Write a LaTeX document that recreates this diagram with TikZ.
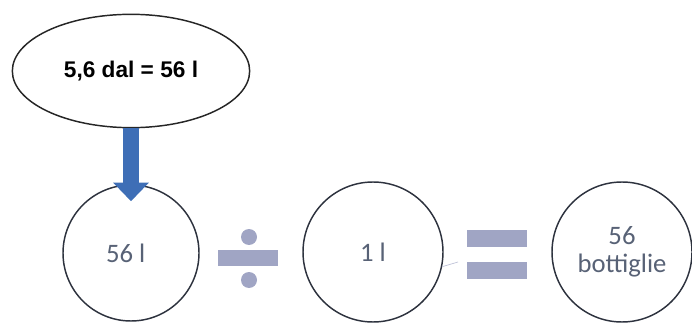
\documentclass[tikz,border=0pt]{standalone}
\usepackage{fontspec}
\newfontfamily\arialfont{Liberation Sans}
\newfontfamily\calibrifont{Carlito}
\usetikzlibrary{arrows.meta, positioning, calc, shapes.geometric}
\definecolor{arrowblue}{RGB}{62,110,182}
\definecolor{signgray}{RGB}{160,165,196}
\definecolor{numgray}{RGB}{88,98,118}
\definecolor{rimgray}{RGB}{45,50,62}

\begin{document}
\begin{tikzpicture}[
    x=0.75pt, y=-0.75pt,
    oval/.style={draw=black!85, line width=1.1pt, ellipse, minimum width=178pt, minimum height=85pt, inner sep=0pt, font=\arialfont\bfseries\fontsize{17}{20}\selectfont},
    ring/.style={draw=rimgray, line width=1.1pt, circle, inner sep=0pt, align=center, text=numgray, font=\calibrifont\fontsize{20}{21}\selectfont},
    bigarr/.style={arrowblue, line width=12pt, -{Triangle[width=26pt, length=14pt]}},
    signbar/.style={fill=signgray, minimum width=45pt, minimum height=12.5pt, inner sep=0pt},
    signdot/.style={fill=signgray, circle, minimum size=12pt, inner sep=0pt},
]
\useasboundingbox (0,0) rectangle (692,324);
% ============================================================
% conversion on top
% ============================================================
\node[oval] (conv) at (131,71) {5,6 dal = 56 l};
% ============================================================
% row: 56 l : 1 l = 56 bottiglie
% ============================================================
\node[ring, minimum size=102pt] (litri) at (131,253) {56 l\hspace{8pt}};
\node[ring, minimum size=105pt] (unit) at (373,252) {1 l};
\node[ring, minimum size=105pt] (bott) at (622,252) {56\\bottiglie};
% --- division sign ---
\node[signbar] (divbar) at (248,258) {};
\node[signdot] (divup) at (249,237) {};
\node[signdot] (divdown) at (249,280) {};
% --- equals sign ---
\node[signbar, minimum height=12.75pt] (equp) at (497,238.5) {};
\node[signbar, minimum height=12.75pt] (eqdown) at (497,270.5) {};
% --- little connector stub ---
\coordinate (stub) at (458,262);
\draw[signgray!70, line width=0.5pt] (unit.-12) -- (stub);
% --- block arrow into the first circle ---
\coordinate (tip) at ($(litri.north)+(0,17)$);
\draw[bigarr] (conv.south) -- (tip);
\end{tikzpicture}
\end{document}
